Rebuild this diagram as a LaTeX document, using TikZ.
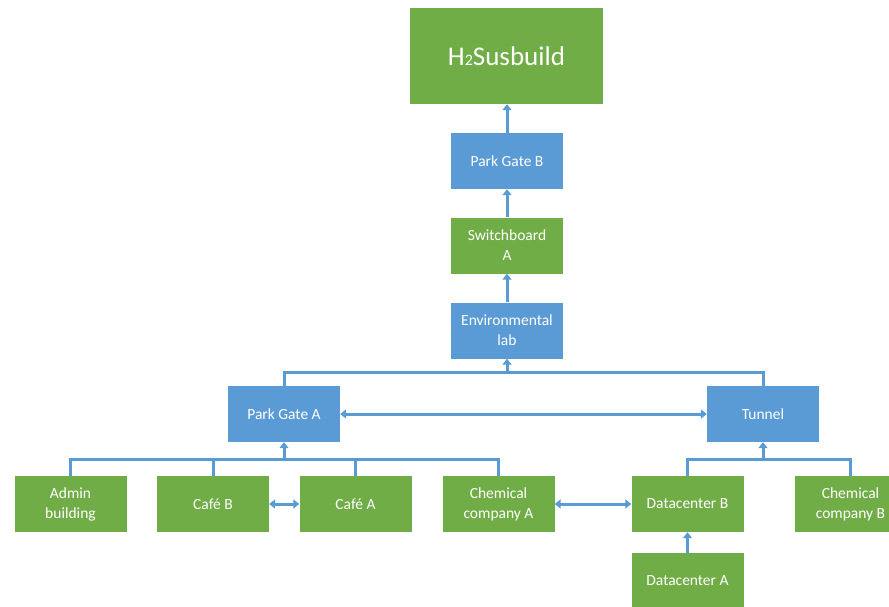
\documentclass[tikz,border=0pt]{standalone}
\usepackage{fontspec}
\setmainfont{Carlito}
\usetikzlibrary{arrows.meta}
\definecolor{bxgreen}{HTML}{70AD47}
\definecolor{bxblue}{HTML}{5B9BD5}
\definecolor{lncol}{HTML}{5B9BD5}
\begin{document}
\begin{tikzpicture}[x=1pt,y=-1pt,
  box/.style={minimum width=112pt,minimum height=56pt,inner sep=0pt,align=center,text=white,
    font=\fontsize{15.5}{20}\selectfont},
  gbox/.style={box,fill=bxgreen},
  bbox/.style={box,fill=bxblue},
  wire/.style={draw=lncol,line width=3pt},
  arr/.style={wire,-{Triangle[width=9pt,length=6pt]}},
  darr/.style={wire,{Triangle[width=9pt,length=6pt]}-{Triangle[width=9pt,length=6pt]}}]
\useasboundingbox (0,0) rectangle (889,606);
\clip (0,0) rectangle (889,606);
\node[gbox,minimum width=193pt,minimum height=96pt,font=\fontsize{27}{30}\selectfont] (h2) at (506.5,56) {H{\fontsize{16}{18}\selectfont 2}Susbuild};
\node[bbox] (pgb) at (507,161) {Park Gate B};
\node[gbox] (swa) at (507,245.5) {Switchboard\\A};
\node[bbox] (env) at (507,330.5) {Environmental\\lab};
\node[bbox] (pga) at (284,414) {Park Gate A};
\node[bbox] (tun) at (763,414) {Tunnel};
\node[gbox] (adm) at (70.5,504) {Admin\\building};
\node[gbox] (cafb) at (213,504) {Café B};
\node[gbox] (cafa) at (355.5,504) {Café A};
\node[gbox] (chema) at (498.5,504) {Chemical\\company A};
\node[gbox] (dcb) at (687.5,504) {Datacenter B};
\node[gbox] (chemb) at (850.5,504) {Chemical\\company B};
\node[gbox] (dca) at (687.5,581) {Datacenter A};
\coordinate (j1) at (507,372);
\coordinate (j2) at (284,459);
\coordinate (j3) at (763,459);
\draw[arr] (pgb.north) -- (pgb.north |- h2.south);
\draw[arr] (swa.north) -- (pgb.south);
\draw[arr] (env.north) -- (swa.south);
\draw[wire] (pga.north) |- (j1) -| (tun.north);
\draw[arr] (j1) -- (env.south);
\draw[darr] (pga.east) -- (tun.west);
\draw[wire] (adm.north) |- (chema.north |- j2) -- (chema.north);
\draw[wire] (cafb.north) -- (cafb.north |- j2);
\draw[wire] (cafa.north) -- (cafa.north |- j2);
\draw[arr] (j2) -- (pga.south);
\draw[wire] (dcb.north) |- (j3) -| (chemb.north);
\draw[arr] (j3) -- (tun.south);
\draw[darr] (cafb.east) -- (cafa.west);
\draw[darr] (chema.east) -- (dcb.west);
\draw[arr] (dca.north) -- (dcb.south);
\end{tikzpicture}
\end{document}
